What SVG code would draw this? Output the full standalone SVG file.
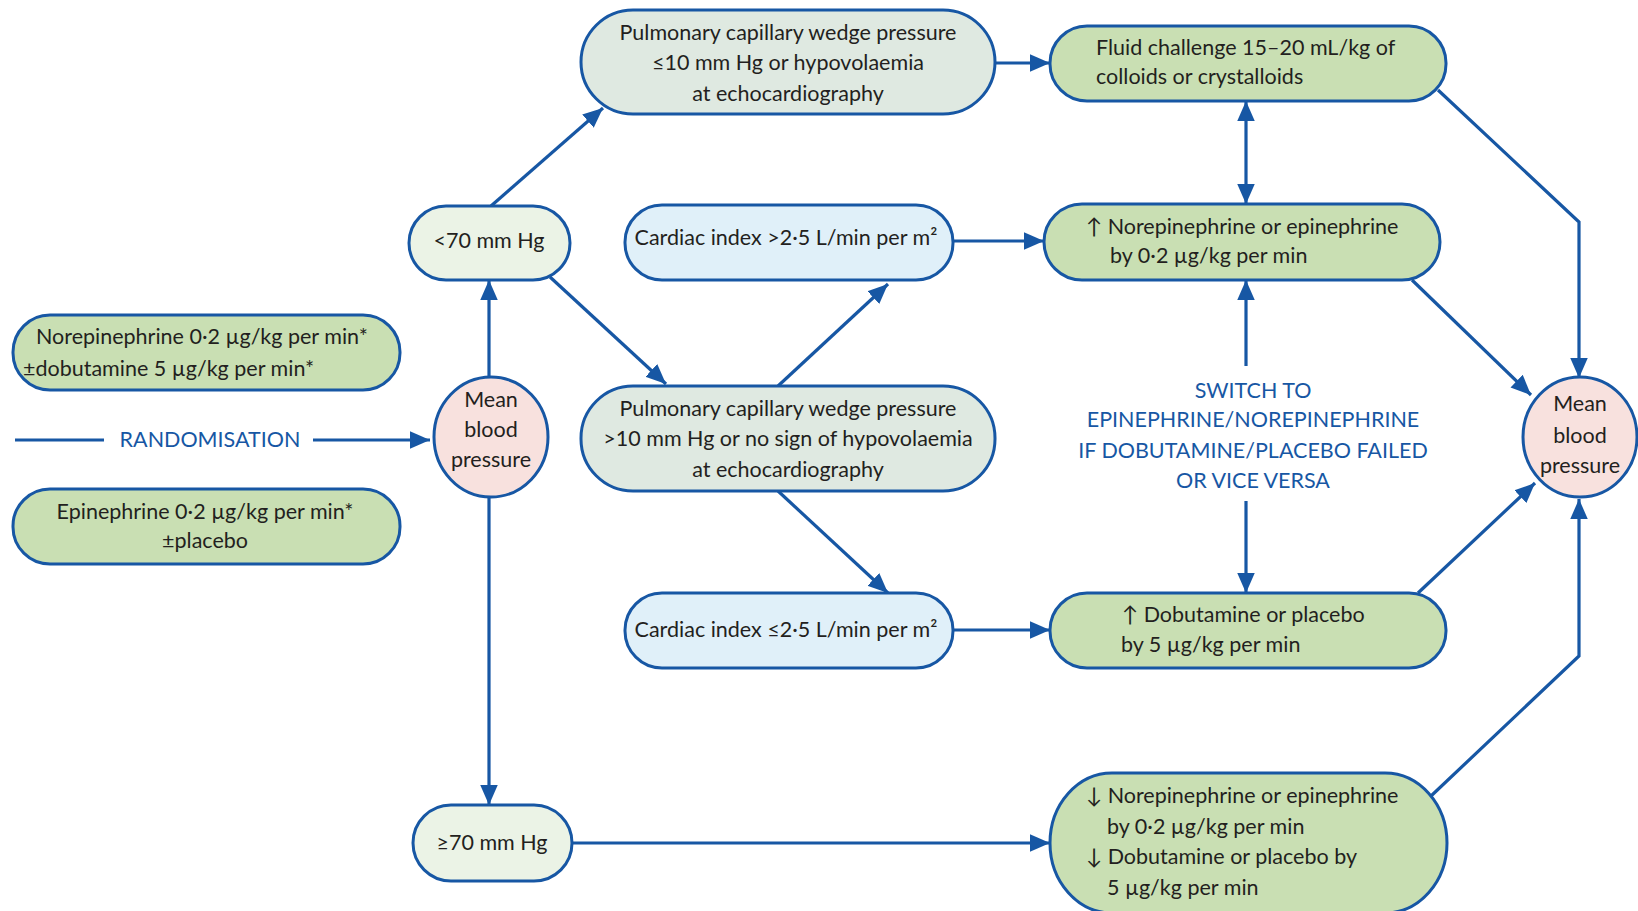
<svg xmlns="http://www.w3.org/2000/svg" width="1638" height="911" viewBox="0 0 1638 911">
<style>
.n{stroke:#1757a4;stroke-width:3}
.g{fill:#c9dfb3}
.p{fill:#dfe9e1}
.b{fill:#e0f0f9}
.l{fill:#ebf3e6}
.r{fill:#f8e1de}
text{font-family:Lato,"Open Sans","Liberation Sans",sans-serif;font-size:21.5px;fill:#231f20;letter-spacing:0}
.c{text-anchor:middle}
.bl{fill:#1757a4}
.cn path,.cn line{stroke:#1757a4;stroke-width:3.2;fill:none}
</style>
<defs>
<marker id="a" markerUnits="userSpaceOnUse" markerWidth="20" markerHeight="20" refX="16" refY="8" orient="auto-start-reverse" viewBox="0 0 16 16">
<path d="M0,1 L16,8 L0,15 Z" fill="#1757a4"/>
</marker>
</defs>
<g class="cn" id="connectors">
<line x1="15" y1="440" x2="104" y2="440"/>
<line x1="313" y1="440" x2="430" y2="440" marker-end="url(#a)"/>
<line x1="489" y1="376" x2="489" y2="280" marker-end="url(#a)"/>
<line x1="489" y1="498" x2="489" y2="805" marker-end="url(#a)"/>
<line x1="491" y1="206" x2="603" y2="108" marker-end="url(#a)"/>
<line x1="550" y1="277" x2="666" y2="384" marker-end="url(#a)"/>
<line x1="778" y1="386" x2="888" y2="284" marker-end="url(#a)"/>
<line x1="778" y1="491" x2="888" y2="593" marker-end="url(#a)"/>
<line x1="995" y1="63" x2="1050" y2="63" marker-end="url(#a)"/>
<line x1="953" y1="241" x2="1044" y2="241" marker-end="url(#a)"/>
<line x1="953" y1="630" x2="1050" y2="630" marker-end="url(#a)"/>
<line x1="572" y1="843" x2="1050" y2="843" marker-end="url(#a)"/>
<line x1="1246" y1="101" x2="1246" y2="204" marker-start="url(#a)" marker-end="url(#a)"/>
<line x1="1246" y1="366" x2="1246" y2="280" marker-end="url(#a)"/>
<line x1="1246" y1="501" x2="1246" y2="593" marker-end="url(#a)"/>
<path d="M1438,90 L1579,222 L1579,378" marker-end="url(#a)"/>
<line x1="1412" y1="280" x2="1531" y2="395" marker-end="url(#a)"/>
<line x1="1418" y1="593" x2="1535" y2="483" marker-end="url(#a)"/>
<path d="M1431,796 L1579,656 L1579,499" marker-end="url(#a)"/>
</g>
<g id="n-norepi-start">
<rect class="n g" x="13" y="315" width="387" height="75" rx="37"/>
<text x="36" y="344">Norepinephrine 0·2 µg/kg per min*</text>
<text x="23" y="376">±dobutamine 5 µg/kg per min*</text>
</g>
<g id="n-randomisation">
<text class="bl c" x="210" y="447">RANDOMISATION</text>
</g>
<g id="n-epi-start">
<rect class="n g" x="13" y="489" width="387" height="75" rx="37"/>
<text class="c" x="205" y="519">Epinephrine 0·2 µg/kg per min*</text>
<text class="c" x="205" y="548">±placebo</text>
</g>
<g id="n-mbp-left">
<ellipse class="n r" cx="491" cy="437" rx="57" ry="60"/>
<text class="c" x="491" y="407">Mean</text>
<text class="c" x="491" y="437">blood</text>
<text class="c" x="491" y="467">pressure</text>
</g>
<g id="n-lt70">
<rect class="n l" x="409" y="206" width="161" height="74" rx="37"/>
<text class="c" x="489" y="248">&lt;70 mm Hg</text>
</g>
<g id="n-ge70">
<rect class="n l" x="413" y="805" width="159" height="76" rx="38"/>
<text class="c" x="492" y="850">≥70 mm Hg</text>
</g>
<g id="n-pcwp-low">
<rect class="n p" x="581" y="10" width="414" height="104" rx="52"/>
<text class="c" x="788" y="40">Pulmonary capillary wedge pressure</text>
<text class="c" x="788" y="70">≤10 mm Hg or hypovolaemia</text>
<text class="c" x="788" y="101">at echocardiography</text>
</g>
<g id="n-ci-high">
<rect class="n b" x="625" y="205" width="328" height="75" rx="37"/>
<text class="c" x="786" y="245">Cardiac index &gt;2·5 L/min per m²</text>
</g>
<g id="n-pcwp-high">
<rect class="n p" x="581" y="386" width="414" height="105" rx="52"/>
<text class="c" x="788" y="416">Pulmonary capillary wedge pressure</text>
<text class="c" x="788" y="446">&gt;10 mm Hg or no sign of hypovolaemia</text>
<text class="c" x="788" y="477">at echocardiography</text>
</g>
<g id="n-ci-low">
<rect class="n b" x="625" y="593" width="328" height="75" rx="37"/>
<text class="c" x="786" y="637">Cardiac index ≤2·5 L/min per m²</text>
</g>
<g id="n-fluid">
<rect class="n g" x="1050" y="26" width="396" height="75" rx="37"/>
<text x="1096" y="55">Fluid challenge 15–20 mL/kg of</text>
<text x="1096" y="84">colloids or crystalloids</text>
</g>
<g id="n-norepi-up">
<rect class="n g" x="1044" y="204" width="396" height="76" rx="38"/>
<text x="1086" y="234">↑ Norepinephrine or epinephrine</text>
<text x="1110" y="263">by 0·2 µg/kg per min</text>
</g>
<g id="n-switch">
<text class="bl c" x="1253" y="398">SWITCH TO</text>
<text class="bl c" x="1253" y="427">EPINEPHRINE/NOREPINEPHRINE</text>
<text class="bl c" x="1253" y="458">IF DOBUTAMINE/PLACEBO FAILED</text>
<text class="bl c" x="1253" y="488">OR VICE VERSA</text>
</g>
<g id="n-dobu-up">
<rect class="n g" x="1050" y="593" width="396" height="75" rx="37"/>
<text x="1122" y="622">↑ Dobutamine or placebo</text>
<text x="1121" y="652">by 5 µg/kg per min</text>
</g>
<g id="n-decrease">
<rect class="n g" x="1050" y="773" width="397" height="140" rx="62" ry="70"/>
<text x="1086" y="803">↓ Norepinephrine or epinephrine</text>
<text x="1107" y="834">by 0·2 µg/kg per min</text>
<text x="1086" y="864">↓ Dobutamine or placebo by</text>
<text x="1107" y="895">5 µg/kg per min</text>
</g>
<g id="n-mbp-right">
<ellipse class="n r" cx="1580" cy="437" rx="57" ry="60"/>
<text class="c" x="1580" y="411">Mean</text>
<text class="c" x="1580" y="443">blood</text>
<text class="c" x="1580" y="473">pressure</text>
</g>
</svg>
